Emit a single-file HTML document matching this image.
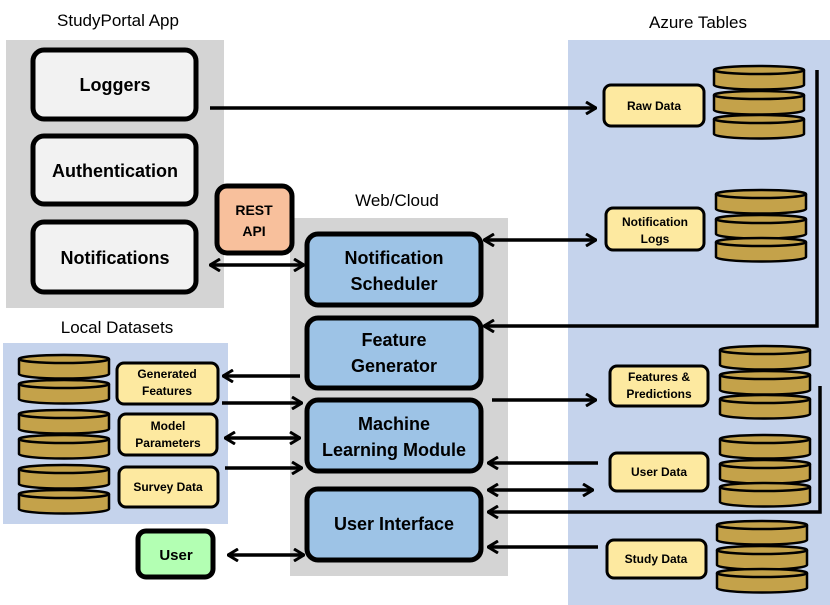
<!DOCTYPE html>
<html><head><meta charset="utf-8"><style>
body{margin:0;background:#fff}
svg{display:block}
text{font-family:"Liberation Sans",sans-serif}
.b{font-weight:bold}
</style></head><body>
<svg width="830" height="605" viewBox="0 0 830 605" xmlns="http://www.w3.org/2000/svg">
<defs>
<g id="d"><path d="M1,5 L1,20 A45,4.5 0 0 0 91,20 L91,5" fill="#c4a24a" stroke="#000" stroke-width="2.5"/><ellipse cx="46" cy="5" rx="45" ry="4" fill="#c4a24a" stroke="#000" stroke-width="2.5"/></g>
<marker id="a" viewBox="0 0 12 14" refX="11" refY="7" markerWidth="12" markerHeight="14" markerUnits="userSpaceOnUse" orient="auto-start-reverse"><path d="M1,1 L11,7 L1,13" fill="none" stroke="#000" stroke-width="3"/></marker>
</defs>
<rect x="6" y="40" width="218" height="268" fill="#d4d4d4"/>
<rect x="568" y="40" width="262" height="565" fill="#c5d3ec"/>
<rect x="3" y="343" width="225" height="181" fill="#c5d3ec"/>
<rect x="290" y="218" width="218" height="358" fill="#d4d4d4"/>
<text x="118" y="26" font-size="17" text-anchor="middle">StudyPortal App</text>
<text x="698" y="28" font-size="17" text-anchor="middle">Azure Tables</text>
<text x="397" y="206" font-size="17" text-anchor="middle">Web/Cloud</text>
<text x="117" y="333" font-size="17" text-anchor="middle">Local Datasets</text>
<g fill="#f2f2f2" stroke="#000" stroke-width="5">
<rect x="33" y="50" width="163" height="69" rx="11"/>
<rect x="33" y="136" width="163" height="68" rx="11"/>
<rect x="33" y="222" width="163" height="70" rx="11"/>
</g>
<g class="b" font-size="18" text-anchor="middle">
<text x="115" y="91">Loggers</text>
<text x="115" y="177">Authentication</text>
<text x="115" y="264">Notifications</text>
</g>
<rect x="217" y="186" width="75" height="67" rx="10" fill="#f8c09c" stroke="#000" stroke-width="5"/>
<text x="254" y="215" class="b" font-size="14" text-anchor="middle">REST</text>
<text x="254" y="236" class="b" font-size="14" text-anchor="middle">API</text>
<g fill="#9dc3e6" stroke="#000" stroke-width="5">
<rect x="307" y="234" width="174" height="71" rx="11"/>
<rect x="307" y="318" width="174" height="70" rx="11"/>
<rect x="307" y="400" width="174" height="71" rx="11"/>
<rect x="307" y="489" width="174" height="71" rx="11"/>
</g>
<g class="b" font-size="18" text-anchor="middle">
<text x="394" y="264">Notification</text><text x="394" y="290">Scheduler</text>
<text x="394" y="346">Feature</text><text x="394" y="372">Generator</text>
<text x="394" y="430">Machine</text><text x="394" y="456">Learning Module</text>
<text x="394" y="530">User Interface</text>
</g>
<g fill="#fde9a0" stroke="#000" stroke-width="3">
<rect x="604" y="85" width="100" height="41" rx="7"/>
<rect x="606" y="208" width="98" height="42" rx="7"/>
<rect x="610" y="366" width="98" height="40" rx="7"/>
<rect x="610" y="453" width="98" height="38" rx="7"/>
<rect x="607" y="540" width="99" height="38" rx="7"/>
<rect x="117" y="363" width="101" height="41" rx="7"/>
<rect x="119" y="414" width="98" height="41" rx="7"/>
<rect x="119" y="467" width="99" height="40" rx="7"/>
</g>
<rect x="138" y="531" width="75" height="46" rx="8" fill="#b3ffb3" stroke="#000" stroke-width="5"/>
<text x="176" y="560" class="b" font-size="15" text-anchor="middle">User</text>
<g class="b" font-size="12" text-anchor="middle">
<text x="654" y="110">Raw Data</text>
<text x="655" y="226">Notification</text><text x="655" y="243">Logs</text>
<text x="659" y="381">Features &amp;</text><text x="659" y="398">Predictions</text>
<text x="659" y="476">User Data</text>
<text x="656" y="563">Study Data</text>
<text x="167" y="378">Generated</text><text x="167" y="395">Features</text>
<text x="168" y="430">Model</text><text x="168" y="447">Parameters</text>
<text x="168" y="491">Survey Data</text>
</g>
<use href="#d" x="713" y="65"/><use href="#d" x="713" y="90"/><use href="#d" x="713" y="114"/>
<use href="#d" x="715" y="189"/><use href="#d" x="715" y="214"/><use href="#d" x="715" y="237"/>
<use href="#d" x="719" y="345"/><use href="#d" x="719" y="370"/><use href="#d" x="719" y="394"/>
<use href="#d" x="719" y="434"/><use href="#d" x="719" y="459"/><use href="#d" x="719" y="482"/>
<use href="#d" x="716" y="520"/><use href="#d" x="716" y="545"/><use href="#d" x="716" y="568"/>
<use href="#d" x="18" y="354"/><use href="#d" x="18" y="379"/>
<use href="#d" x="18" y="409"/><use href="#d" x="18" y="434"/>
<use href="#d" x="18" y="464"/><use href="#d" x="18" y="489"/>
<g stroke="#000" stroke-width="3.5" fill="none">
<line x1="210" y1="108" x2="596" y2="108" marker-end="url(#a)"/>
<line x1="484" y1="240" x2="596" y2="240" marker-start="url(#a)" marker-end="url(#a)"/>
<polyline points="817,70 817,326 484,326" marker-end="url(#a)"/>
<line x1="210" y1="265" x2="304" y2="265" marker-start="url(#a)" marker-end="url(#a)"/>
<line x1="300" y1="376" x2="223" y2="376" marker-end="url(#a)"/>
<line x1="222" y1="403" x2="302" y2="403" marker-end="url(#a)"/>
<line x1="225" y1="438" x2="300" y2="438" marker-start="url(#a)" marker-end="url(#a)"/>
<line x1="225" y1="468" x2="302" y2="468" marker-end="url(#a)"/>
<line x1="228" y1="555" x2="304" y2="555" marker-start="url(#a)" marker-end="url(#a)"/>
<line x1="492" y1="400" x2="596" y2="400" marker-end="url(#a)"/>
<line x1="598" y1="463" x2="488" y2="463" marker-end="url(#a)"/>
<line x1="488" y1="490" x2="593" y2="490" marker-start="url(#a)" marker-end="url(#a)"/>
<polyline points="820,386 820,512 488,512" marker-end="url(#a)"/>
<line x1="598" y1="547" x2="488" y2="547" marker-end="url(#a)"/>
</g>
</svg>
</body></html>
